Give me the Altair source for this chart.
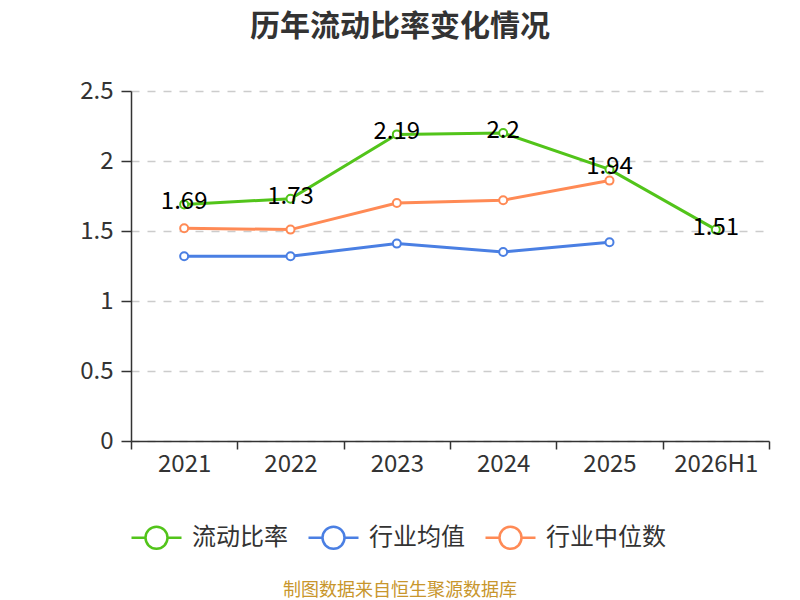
import altair as alt
import pandas as pd

years = ["2021", "2022", "2023", "2024", "2025", "2026H1"]
ratio = [1.69, 1.73, 2.19, 2.2, 1.94, 1.51]
ratio_labels = ["1.69", "1.73", "2.19", "2.2", "1.94", "1.51"]
industry_avg = [1.32, 1.32, 1.41, 1.35, 1.42]
industry_median = [1.52, 1.51, 1.70, 1.72, 1.86]

series_names = ["流动比率", "行业均值", "行业中位数"]
series_colors = ["#52C41A", "#4A7FE3", "#FF8A55"]

rows = []
for y, v, lab in zip(years, ratio, ratio_labels):
    rows.append({"year": y, "value": v, "series": series_names[0], "label": lab})
for y, v in zip(years, industry_avg):
    rows.append({"year": y, "value": v, "series": series_names[1], "label": ""})
for y, v in zip(years, industry_median):
    rows.append({"year": y, "value": v, "series": series_names[2], "label": ""})
df = pd.DataFrame(rows)

FONT = "Noto Sans CJK SC"
legend_path = ("M-1,0L-0.44,0M0.44,0L1,0M0.44,0A0.44,0.44 0 1 1 -0.44,0"
               "A0.44,0.44 0 1 1 0.44,0Z")

legend = alt.Legend(
    title=None, orient="none", legendX=-1, legendY=420, direction="horizontal",
    symbolType=legend_path, symbolSize=2500, symbolStrokeWidth=2.5,
    labelFontSize=24, labelColor="#333333", labelFont=FONT,
    columnPadding=15, labelOffset=9,
)

color = alt.Color("series:N", scale=alt.Scale(domain=series_names, range=series_colors),
                  legend=legend)

x = alt.X("year:N", sort=years, title=None,
          scale=alt.Scale(type="band", paddingInner=0, paddingOuter=0),
          axis=alt.Axis(labelAngle=0, tickBand="extent", labelFontSize=24,
                        labelColor="#333333", labelFont=FONT, tickSize=8,
                        labelPadding=3, domainColor="#333333", tickColor="#333333",
                        domainWidth=1.5, tickWidth=1.5, grid=False))
y = alt.Y("value:Q", title=None,
          scale=alt.Scale(domain=[0, 2.5], nice=False),
          axis=alt.Axis(values=[0, 0.5, 1, 1.5, 2, 2.5], format="~g", labelFontSize=24,
                        labelColor="#333333", labelFont=FONT, tickSize=10,
                        labelPadding=8, domainColor="#333333", tickColor="#333333",
                        domainWidth=1.5, tickWidth=1.5, gridColor="#cccccc",
                        gridDash=[8, 8], gridWidth=1.5))

base = alt.Chart(df)
lines = base.mark_line(strokeWidth=3).encode(x=x, y=y, color=color)
points = base.mark_point(shape="circle", filled=False, fill="white", size=64,
                         strokeWidth=2, opacity=1).encode(x=x, y=y, color=color)
labels = base.transform_filter(alt.datum.series == series_names[0]).mark_text(
    fontSize=24, font=FONT, color="#000000", baseline="middle", dy=-2
).encode(x=x, y=y, text="label:N")

footer = alt.Chart(pd.DataFrame({"t": ["制图数据来自恒生聚源数据库"]})).mark_text(
    fontSize=18, font=FONT, color="#C8962C", baseline="middle"
).encode(x=alt.value(269), y=alt.value(500), text="t:N")

chart = alt.layer(lines, points, labels, footer).properties(
    width=638, height=350,
    padding={"left": 123, "top": 83, "right": 23, "bottom": 170},
    autosize=alt.AutoSizeParams(type="none"),
    title=alt.TitleParams("历年流动比率变化情况", fontSize=30, fontWeight="bold",
                          color="#333333", font=FONT, anchor="middle", dx=-50,
                          offset=37),
).configure_view(stroke=None)

chart.save("out.html", embed_options={"renderer": "svg", "actions": False})
